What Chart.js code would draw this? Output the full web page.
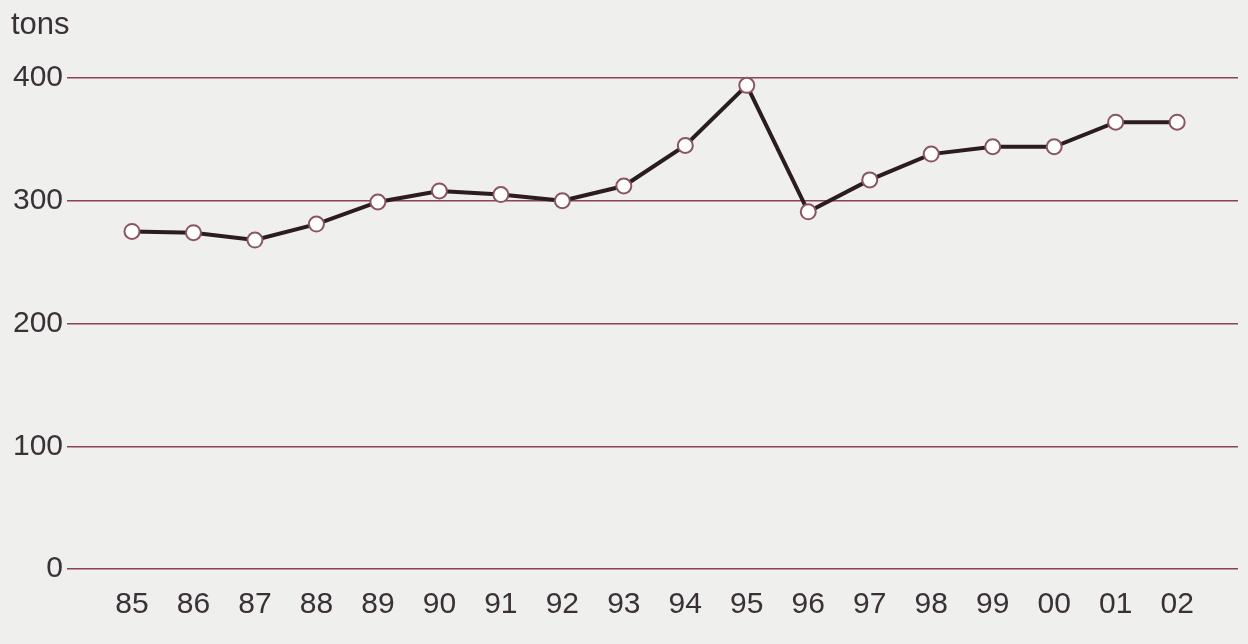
<!DOCTYPE html>
<html>
<head>
<meta charset="utf-8">
<script src="https://cdn.jsdelivr.net/npm/chart.js@4.4.0/dist/chart.umd.min.js"></script>
<style>
  html, body { margin: 0; padding: 0; background: #efefed; }
  #wrap { position: relative; width: 1248px; height: 644px; }
  #unit { position: absolute; left: 11px; top: 6px; font: 31px "Liberation Sans", Arial, sans-serif; color: #3a3136; }
  canvas { position: absolute; left: 0; top: 0; }
</style>
</head>
<body>
<div id="wrap">
  <canvas id="chart" width="1248" height="644"></canvas>
  <div id="unit">tons</div>
</div>
<script>
let years = ["85","86","87","88","89","90","91","92","93","94","95","96","97","98","99","00","01","02"];
let tons = [275, 274, 268, 281, 299, 308, 305, 300, 312, 345, 394, 291, 317, 338, 344, 344, 364, 364];
let yTicks = [0, 100, 200, 300, 400];

let points = years.map((y, i) => ({ x: i, y: tons[i] }));

let ctx = document.getElementById("chart").getContext("2d");
let chart = new Chart(ctx, {
  type: "line",
  data: {
    datasets: [{
      data: points,
      borderColor: "#2a1c20",
      borderWidth: 4,
      pointRadius: 7.5,
      pointBackgroundColor: "#ffffff",
      pointBorderColor: "#8a5563",
      pointBorderWidth: 2,
      tension: 0,
      clip: false
    }]
  },
  options: {
    responsive: false,
    animation: false,
    layout: { padding: { left: 8, right: 10, top: 78, bottom: 11 } },
    plugins: { legend: { display: false }, tooltip: { enabled: false } },
    scales: {
      x: {
        type: "linear",
        min: -1.057,
        max: 17.99,
        grid: { display: false },
        border: { display: false },
        ticks: {
          stepSize: 1,
          includeBounds: false,
          padding: 10,
          color: "#3a3136",
          font: { family: "Liberation Sans", size: 30 },
          maxRotation: 0,
          autoSkip: false,
          callback: v => years[v] !== undefined ? years[v] : ""
        }
      },
      y: {
        min: yTicks[0],
        max: yTicks[yTicks.length - 1],
        afterFit: s => { s.width = 59; },
        afterBuildTicks: s => { s.ticks = yTicks.map(v => ({ value: v })); },
        grid: { color: "#8a4258", lineWidth: 1.5, drawTicks: false },
        border: { display: false },
        ticks: {
          padding: 4,
          color: "#3a3136",
          font: { family: "Liberation Sans", size: 30 }
        }
      }
    }
  }
});
</script>
</body>
</html>
